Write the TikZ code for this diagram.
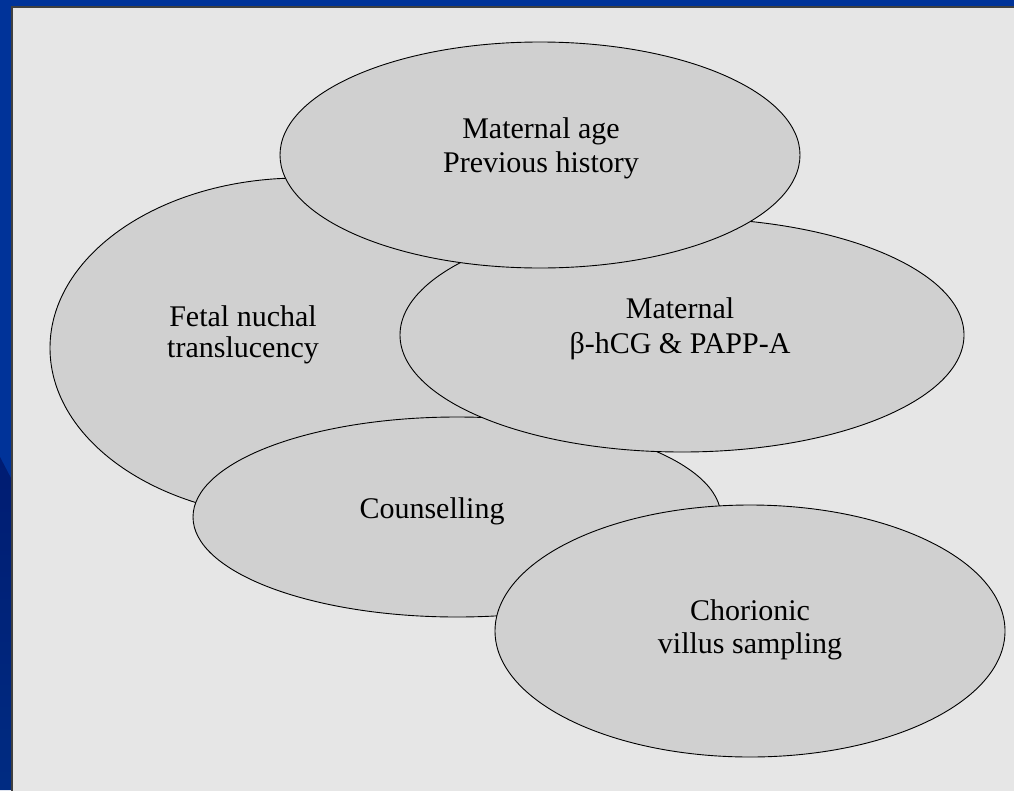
\documentclass[tikz,border=0pt]{standalone}
\usepackage{fontspec}
\setmainfont{Liberation Serif}
\usepackage{tikz}
\definecolor{slideblue}{HTML}{003399}
\definecolor{slidenavy}{HTML}{001C72}
\definecolor{panelgray}{HTML}{E6E6E6}
\definecolor{blobgray}{HTML}{D0D0D0}

\begin{document}
\begin{tikzpicture}[x=1pt,y=-1pt,
  blob/.style={fill=blobgray,draw=black,line width=0.9pt},
  lbl/.style={anchor=base,inner sep=0pt,font=\fontsize{30}{34}\selectfont}]
\useasboundingbox (0,0) rectangle (1014,790);
% slide background
\fill[slideblue] (0,0) rectangle (1014,790);
\shade[top color=slidenavy,bottom color=slideblue!85!black] (0,457) -- (12,480) -- (12,790) -- (0,790) -- cycle;
\filldraw[fill=panelgray,draw=black!75,line width=1.5pt] (12,7) rectangle (1030,800);
% the five ellipses, back to front
\filldraw[blob] (300,348) ellipse [x radius=250pt,y radius=170pt];
\filldraw[blob] (457,517) ellipse [x radius=264pt,y radius=100pt];
\filldraw[blob] (682,335) ellipse [x radius=282pt,y radius=117pt];
\filldraw[blob] (540,155) ellipse [x radius=260pt,y radius=113pt];
\filldraw[blob] (750,631) ellipse [x radius=255pt,y radius=126pt];
% texts
\node[lbl] (age1) at (541,138) {Maternal age};
\node[lbl] (age2) at (541,172) {Previous history};
\node[lbl] (fetal1) at (243,326) {Fetal nuchal};
\node[lbl] (fetal2) at (243,357) {translucency};
\node[lbl] (mat1) at (680,318) {Maternal};
\node[lbl] (mat2) at (680,353) {β-hCG \& PAPP-A};
\node[lbl] (couns) at (432,518) {Counselling};
\node[lbl] (chor1) at (750,620) {Chorionic};
\node[lbl] (chor2) at (750,653) {villus sampling};
\end{tikzpicture}
\end{document}
